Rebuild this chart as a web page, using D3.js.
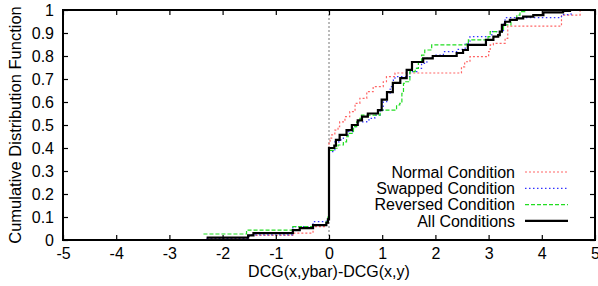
<!DOCTYPE html>
<html>
<head>
<meta charset="utf-8">
<script src="https://cdn.jsdelivr.net/npm/d3@7"></script>
<style>
  body { margin: 0; background: #fff; }
  text { font-family: "Liberation Sans", Arial, sans-serif; fill: #000; }
</style>
</head>
<body>
<script>
// step points [x, cdf]
const normal = [
    [-2.3, 0.007], [-1.5, 0.02], [-0.68, 0.03], [-0.3, 0.058], [-0.05, 0.07], [-0.02, 0.09],
    [0, 0.42], [0.02, 0.443], [0.05, 0.457], [0.11, 0.478], [0.17, 0.493], [0.2, 0.514],
    [0.3, 0.536], [0.39, 0.558], [0.49, 0.594], [0.58, 0.616], [0.71, 0.645], [0.83, 0.667],
    [1.02, 0.688], [1.08, 0.71], [1.24, 0.726], [2.49, 0.753], [2.55, 0.775], [2.65, 0.797],
    [3.0, 0.819], [3.03, 0.848], [3.09, 0.855], [3.31, 0.877], [3.36, 0.93], [4.37, 0.978],
    [4.72, 1.0]
];
const swapped = [
    [-2.3, 0.007], [-1.5, 0.022], [-0.68, 0.058], [-0.3, 0.08], [-0.05, 0.087], [-0.02, 0.1],
    [0, 0.384], [0.11, 0.427], [0.21, 0.435], [0.27, 0.457], [0.36, 0.471], [0.46, 0.493],
    [0.52, 0.5], [0.55, 0.514], [0.71, 0.522], [0.77, 0.529], [0.86, 0.543], [0.96, 0.565],
    [1.02, 0.601], [1.085, 0.638], [1.15, 0.667], [1.21, 0.696], [1.24, 0.71], [1.52, 0.732],
    [1.65, 0.746], [1.74, 0.768], [1.84, 0.79], [1.96, 0.804], [2.15, 0.819], [2.4, 0.829],
    [2.56, 0.855], [2.65, 0.884], [3.06, 0.906], [3.28, 0.942], [3.31, 0.967], [4.37, 0.98],
    [4.55, 1.0]
];
const reversed = [
    [-2.36, 0.026], [-1.55, 0.043], [-0.68, 0.058], [-0.27, 0.065], [-0.05, 0.08], [-0.02, 0.1],
    [0, 0.39], [0.08, 0.399], [0.17, 0.413], [0.27, 0.427], [0.33, 0.449], [0.36, 0.464],
    [0.46, 0.493], [0.52, 0.514], [0.58, 0.529], [0.61, 0.543], [0.96, 0.565], [1.27, 0.587],
    [1.33, 0.594], [1.37, 0.638], [1.4, 0.681], [1.43, 0.688], [1.52, 0.732], [1.62, 0.746],
    [1.68, 0.775], [1.74, 0.804], [1.8, 0.826], [1.93, 0.848], [2.59, 0.855], [2.62, 0.87],
    [2.99, 0.884], [3.03, 0.906], [3.28, 0.935], [3.42, 0.957], [3.53, 0.978], [3.59, 0.993],
    [3.68, 1.0]
];
const allConds = [
    [-2.3, 0.01], [-1.52, 0.02], [-1.42, 0.03], [-0.68, 0.043], [-0.55, 0.052], [-0.3, 0.065],
    [-0.05, 0.075], [-0.02, 0.09], [0, 0.40], [0.1, 0.41], [0.13, 0.435], [0.2, 0.457],
    [0.33, 0.478], [0.43, 0.5], [0.54, 0.52], [0.62, 0.536], [0.73, 0.55], [0.92, 0.565],
    [0.99, 0.61], [1.09, 0.643], [1.2, 0.683], [1.34, 0.704], [1.46, 0.74], [1.56, 0.774],
    [1.77, 0.79], [1.95, 0.8], [2.4, 0.813], [2.52, 0.826], [2.61, 0.848], [2.95, 0.87],
    [3.09, 0.884], [3.18, 0.891], [3.21, 0.906], [3.25, 0.935], [3.31, 0.949], [3.4, 0.957],
    [3.53, 0.964], [3.65, 0.971], [3.84, 0.978], [4.03, 0.99], [4.4, 0.996], [4.53, 1.0]
];

const seriesNames = ['Normal Condition', 'Swapped Condition', 'Reversed Condition', 'All Conditions'];
const xTicks = [-5, -4, -3, -2, -1, 0, 1, 2, 3, 4, 5];
const yTicks = [0, 0.1, 0.2, 0.3, 0.4, 0.5, 0.6, 0.7, 0.8, 0.9, 1];

window.onload = () => {
    const width = 598;
    const height = 286;
    const left = 63, right = 595, top = 10, bottom = 240;

    const svg = d3.select('body')
                  .append('svg')
                  .attr('width', width)
                  .attr('height', height);

    const x = d3.scaleLinear().domain([-5, 5]).range([left, right]);
    const y = d3.scaleLinear().domain([0, 1]).range([bottom, top]);

    // zero line
    svg.append('line')
        .attr('x1', x(0)).attr('x2', x(0))
        .attr('y1', top).attr('y2', bottom)
        .style('stroke', '#777')
        .style('stroke-width', 1)
        .style('stroke-dasharray', '2,2');

    const styles = [
        { color: '#ff6666', dash: '2,2', w: 1.2 },
        { color: '#3333ff', dash: '1.5,2.5', w: 1.2 },
        { color: '#22dd22', dash: '4,2', w: 1.2 },
        { color: '#000', dash: null, w: 2.2 }
    ];
    const series = [normal, swapped, reversed, allConds];

    const line = d3.line()
        .x(d => x(d[0]))
        .y(d => y(d[1]))
        .curve(d3.curveStepAfter);

    series.forEach((s, i) => {
        svg.append('path')
            .attr('d', line(s))
            .style('fill', 'none')
            .style('stroke', styles[i].color)
            .style('stroke-width', styles[i].w)
            .style('stroke-dasharray', styles[i].dash);
    });

    // axes (ticks pointing inwards, mirrored)
    const gx = svg.append('g')
        .attr('transform', `translate(0,${bottom})`)
        .call(d3.axisBottom(x).tickValues(xTicks).tickSize(-5).tickSizeOuter(0)
              .tickFormat(d => String(d)));
    const gxTop = svg.append('g')
        .attr('transform', `translate(0,${top})`)
        .call(d3.axisTop(x).tickValues(xTicks).tickSize(-5).tickSizeOuter(0).tickFormat(''));
    const gy = svg.append('g')
        .attr('transform', `translate(${left},0)`)
        .call(d3.axisLeft(y).tickValues(yTicks).tickSize(-5).tickSizeOuter(0)
              .tickFormat(d => String(d)));
    const gyRight = svg.append('g')
        .attr('transform', `translate(${right},0)`)
        .call(d3.axisRight(y).tickValues(yTicks).tickSize(-5).tickSizeOuter(0).tickFormat(''));

    [gx, gxTop, gy, gyRight].forEach(g => {
        g.select('.domain').remove();
        g.selectAll('.tick line').style('stroke', '#000').style('stroke-width', 1.2);
    });
    gx.selectAll('.tick text').style('font-size', '16px').attr('y', 8).attr('dy', '0.71em');
    gy.selectAll('.tick text').style('font-size', '16px').attr('x', -9);

    // frame
    svg.append('rect')
        .attr('x', left).attr('y', top)
        .attr('width', right - left).attr('height', bottom - top)
        .style('fill', 'none')
        .style('stroke', '#000')
        .style('stroke-width', 2);

    // axis titles
    svg.append('text')
        .attr('x', x(0))
        .attr('y', 277)
        .attr('text-anchor', 'middle')
        .style('font-size', '16px')
        .text('DCG(x,ybar)-DCG(x,y)');

    svg.append('text')
        .attr('transform', `translate(21,${(top + bottom) / 2}) rotate(-90)`)
        .attr('text-anchor', 'middle')
        .style('font-size', '16.5px')
        .text('Cumulative Distribution Function');

    // legend
    const legend = svg.append('g');
    seriesNames.forEach((name, i) => {
        const ly = 172 + i * 16.3;
        legend.append('text')
            .attr('x', 515)
            .attr('y', ly)
            .attr('dy', '0.35em')
            .attr('text-anchor', 'end')
            .style('font-size', '16px')
            .text(name);
        legend.append('line')
            .attr('x1', 525).attr('x2', 568)
            .attr('y1', ly).attr('y2', ly)
            .style('stroke', styles[i].color)
            .style('stroke-width', styles[i].w)
            .style('stroke-dasharray', styles[i].dash);
    });
};
</script>
</body>
</html>
